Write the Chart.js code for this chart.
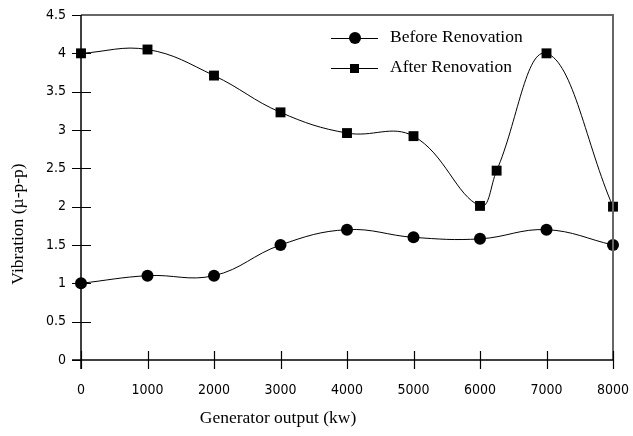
<!DOCTYPE html>
<html>
<head>
<meta charset="utf-8">
<script src="https://cdn.jsdelivr.net/npm/chart.js@4/dist/chart.umd.min.js"></script>
<style>
  html, body { margin: 0; padding: 0; background: #fff; }
  #wrap { width: 633px; height: 436px; position: relative; }
</style>
</head>
<body>
<div id="wrap"><canvas id="c" width="633" height="436"></canvas></div>
<script>
// Generator output (kw) and measured vibration (µ-p-p)
const outputs = [0, 1000, 2000, 3000, 4000, 5000, 6000, 7000, 8000];
const beforeVals = [1.0, 1.1, 1.1, 1.5, 1.7, 1.6, 1.58, 1.7, 1.5];
const afterOutputs = [0, 1000, 2000, 3000, 4000, 5000, 6000, 6250, 7000, 8000];
const afterVals = [4.0, 4.05, 3.71, 3.23, 2.96, 2.92, 2.01, 2.47, 4.0, 2.0];
const xTicks = [0, 1000, 2000, 3000, 4000, 5000, 6000, 7000, 8000];
const yTicks = [0, 0.5, 1, 1.5, 2, 2.5, 3, 3.5, 4, 4.5];
const seriesNames = ['Before Renovation', 'After Renovation'];
const xTitle = 'Generator output (kw)';
const yTitle = 'Vibration (\u00b5-p-p)';

const tickFamily = '"DejaVu Sans Condensed", "DejaVu Sans", Tahoma, sans-serif';
const serif = '17.5px "Liberation Serif", "Times New Roman", serif';

// Frame, crossing tick marks, axis titles and the in-plot legend
const decorations = {
  id: 'decorations',
  afterDatasetsDraw(chart) {
    const { ctx, chartArea: a, scales: { x, y } } = chart;
    ctx.save();
    // top and right frame
    ctx.strokeStyle = '#666';
    ctx.lineWidth = 2;
    ctx.beginPath();
    ctx.moveTo(a.left, a.top);
    ctx.lineTo(a.right, a.top);
    ctx.lineTo(a.right, a.bottom);
    ctx.stroke();
    // axes
    ctx.strokeStyle = '#000';
    ctx.lineWidth = 1.5;
    ctx.beginPath();
    ctx.moveTo(a.left, a.top);
    ctx.lineTo(a.left, a.bottom + 9);
    ctx.moveTo(a.left - 9, a.bottom);
    ctx.lineTo(a.right, a.bottom);
    ctx.stroke();
    // crossing ticks
    ctx.lineWidth = 1.2;
    ctx.beginPath();
    yTicks.forEach(v => {
      const py = Math.round(y.getPixelForValue(v)) + 0.5;
      ctx.moveTo(a.left - 9, py);
      ctx.lineTo(a.left + (v === 4.5 || v === 0 ? 0 : 10), py);
    });
    xTicks.forEach(v => {
      const px = Math.round(x.getPixelForValue(v)) + 0.5;
      ctx.moveTo(px, a.bottom - 9);
      ctx.lineTo(px, a.bottom + 9);
    });
    ctx.stroke();
    // axis titles
    ctx.fillStyle = '#000';
    ctx.font = serif;
    ctx.textAlign = 'center';
    ctx.textBaseline = 'middle';
    ctx.fillText(xTitle, 278, 418);
    ctx.save();
    ctx.translate(18, 224);
    ctx.rotate(-Math.PI / 2);
    ctx.fillText(yTitle, 0, 0);
    ctx.restore();
    // legend
    const rows = [38, 68];
    chart.data.datasets.forEach((ds, i) => {
      const ly = rows[i];
      ctx.strokeStyle = '#000';
      ctx.lineWidth = 1;
      ctx.beginPath();
      ctx.moveTo(331, ly + 0.5);
      ctx.lineTo(378, ly + 0.5);
      ctx.stroke();
      ctx.fillStyle = '#000';
      if (ds.pointStyle === 'circle') {
        ctx.beginPath();
        ctx.arc(355, ly, 6, 0, Math.PI * 2);
        ctx.fill();
      } else {
        ctx.fillRect(350, ly - 4, 9, 9);
      }
      ctx.font = serif;
      ctx.textAlign = 'left';
      ctx.textBaseline = 'middle';
      ctx.fillText(ds.label, 390, ly - 1);
    });
    ctx.restore();
  }
};

new Chart(document.getElementById('c'), {
  type: 'line',
  data: {
    datasets: [
      {
        label: seriesNames[0],
        data: outputs.map((o, i) => ({ x: o, y: beforeVals[i] })),
        borderColor: '#000',
        backgroundColor: '#000',
        borderWidth: 1,
        pointStyle: 'circle',
        pointRadius: 6,
        pointBorderWidth: 0,
        tension: 0.4
      },
      {
        label: seriesNames[1],
        data: afterOutputs.map((o, i) => ({ x: o, y: afterVals[i] })),
        borderColor: '#000',
        backgroundColor: '#000',
        borderWidth: 1,
        pointStyle: 'rect',
        pointRadius: 7,
        pointBorderWidth: 0,
        tension: 0.4
      }
    ]
  },
  options: {
    responsive: false,
    animation: false,
    clip: false,
    layout: { padding: { top: 15, right: 20, left: 0, bottom: 0 } },
    plugins: { legend: { display: false }, tooltip: { enabled: false } },
    scales: {
      x: {
        type: 'linear',
        min: 0,
        max: 8000,
        afterBuildTicks: s => { s.ticks = xTicks.map(v => ({ value: v })); },
        afterFit: s => { s.height = 76; s.paddingLeft = 0; s.paddingRight = 0; },
        grid: { display: false, drawTicks: false },
        border: { display: false },
        ticks: { font: { family: tickFamily, size: 14 }, color: '#000', padding: 22, maxRotation: 0, callback: v => String(v) }
      },
      y: {
        type: 'linear',
        min: 0,
        max: 4.5,
        afterBuildTicks: s => { s.ticks = yTicks.map(v => ({ value: v })); },
        afterFit: s => { s.width = 81; s.paddingTop = 0; s.paddingBottom = 0; },
        grid: { display: false, drawTicks: false },
        border: { display: false },
        ticks: { font: { family: tickFamily, size: 14 }, color: '#000', padding: 15, callback: v => String(v) }
      }
    }
  },
  plugins: [decorations]
});
</script>
</body>
</html>
